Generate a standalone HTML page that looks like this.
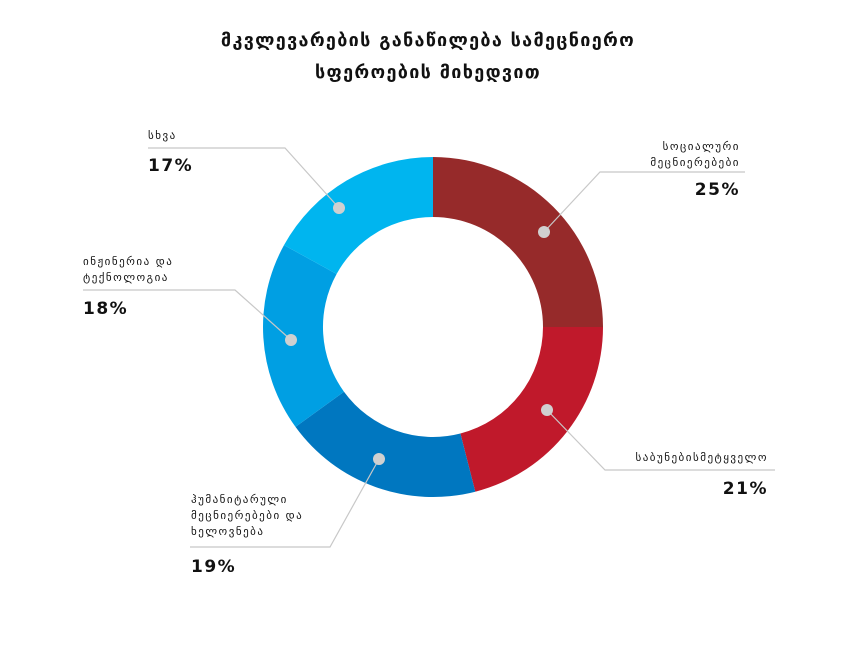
<!DOCTYPE html>
<html><head><meta charset="utf-8"><style>
body{margin:0;background:#fff;width:864px;height:649px;overflow:hidden}
svg{display:block}
text{font-family:"DejaVu Sans","Liberation Sans",sans-serif;fill:#111}
.t{font-size:18px;font-weight:bold;letter-spacing:1.3px}
.l{font-size:11px;letter-spacing:1.5px}
.p{font-size:17px;font-weight:bold;letter-spacing:1.5px;font-family:"DejaVu Sans",sans-serif}
</style></head><body>
<svg width="864" height="649" viewBox="0 0 864 649">
<text class="t" x="428" y="46" text-anchor="middle">მკვლევარების განაწილება სამეცნიერო</text>
<text class="t" x="428" y="78" text-anchor="middle">სფეროების მიხედვით</text>
<path d="M433,157 A170,170 0 0 1 603,327 L543,327 A110,110 0 0 0 433,217 Z" fill="#962a2a"/>
<path d="M603,327 A170,170 0 0 1 475.3,491.7 L460.4,433.5 A110,110 0 0 0 543,327 Z" fill="#c0192b"/>
<path d="M475.3,491.7 A170,170 0 0 1 295.5,426.9 L344,391.7 A110,110 0 0 0 460.4,433.5 Z" fill="#0077c0"/>
<path d="M295.5,426.9 A170,170 0 0 1 284,245.1 L336.6,274 A110,110 0 0 0 344,391.7 Z" fill="#009fe3"/>
<path d="M284,245.1 A170,170 0 0 1 433,157 L433,217 A110,110 0 0 0 336.6,274 Z" fill="#00b5ef"/>
<g stroke="#c8c8c8" stroke-width="1.2" fill="none">
<polyline points="544,232 600,172 745,172"/>
<polyline points="547,410 605,470 775,470"/>
<polyline points="379,459 330,547 190,547"/>
<polyline points="291,340 235,290 83,290"/>
<polyline points="339,208 285,148 148,148"/>
</g>
<g fill="#d0d0d0"><circle cx="544" cy="232" r="6"/><circle cx="547" cy="410" r="6"/><circle cx="379" cy="459" r="6"/><circle cx="291" cy="340" r="6"/><circle cx="339" cy="208" r="6"/></g>
<text class="l" x="148" y="139">სხვა</text>
<text class="p" x="148" y="171">17%</text>
<text class="l" x="83" y="265">ინჟინერია და</text>
<text class="l" x="83" y="281">ტექნოლოგია</text>
<text class="p" x="83" y="314">18%</text>
<text class="l" x="191" y="503">ჰუმანიტარული</text>
<text class="l" x="191" y="519">მეცნიერებები და</text>
<text class="l" x="191" y="535">ხელოვნება</text>
<text class="p" x="191" y="572">19%</text>
<text class="l" x="768" y="461" text-anchor="end">საბუნებისმეტყველო</text>
<text class="p" x="768" y="494" text-anchor="end">21%</text>
<text class="l" x="740" y="150" text-anchor="end">სოციალური</text>
<text class="l" x="740" y="166" text-anchor="end">მეცნიერებები</text>
<text class="p" x="740" y="195" text-anchor="end">25%</text>
</svg>
</body></html>
